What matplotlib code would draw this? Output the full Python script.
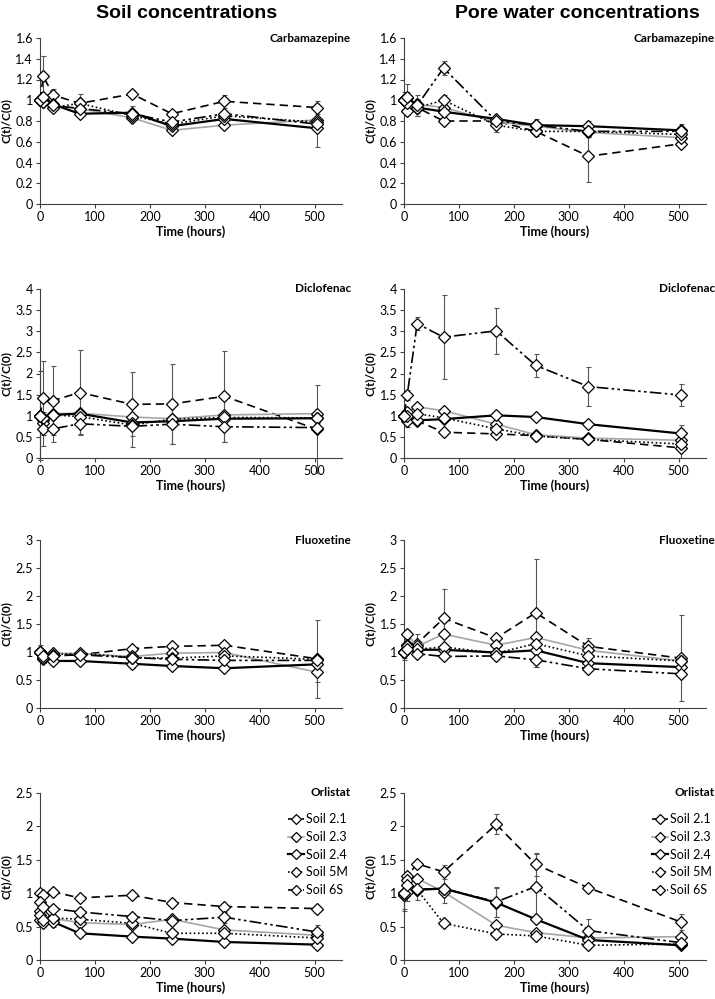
import matplotlib
matplotlib.use("Agg")
import matplotlib.pyplot as plt

# ---------------- data ----------------
times = [0, 6, 24, 72, 168, 240, 336, 504]
soils = ["Soil 2.1", "Soil 2.3", "Soil 2.4", "Soil 5M", "Soil 6S"]
compounds = ["Carbamazepine", "Diclofenac", "Fluoxetine", "Orlistat"]
column_titles = ["Soil concentrations", "Pore water concentrations"]
y_max = [1.6, 4, 3, 2.5]
y_step = [0.2, 0.5, 0.5, 0.5]

# order of series: Soil 2.1, 2.3, 2.4, 5M, 6S
soil_carbamazepine = [
    [1.00, 1.23, 1.05, 0.97, 1.06, 0.87, 0.99, 0.93],
    [1.00, 0.98, 0.95, 0.92, 0.83, 0.71, 0.76, 0.81],
    [1.00, 1.00, 0.96, 0.87, 0.88, 0.75, 0.82, 0.73],
    [1.00, 0.98, 0.93, 0.97, 0.85, 0.77, 0.85, 0.79],
    [1.00, 1.03, 0.95, 0.92, 0.87, 0.79, 0.87, 0.77],
]
soil_carbamazepine_err = [
    [0.05, 0.20, 0.06, 0.09, 0.04, 0.02, 0.06, 0.06],
    [0.02, 0.02, 0.02, 0.02, 0.02, 0.02, 0.02, 0.02],
    [0.05, 0.03, 0.02, 0.03, 0.06, 0.03, 0.05, 0.18],
    [0.03, 0.02, 0.02, 0.03, 0.03, 0.02, 0.03, 0.03],
    [0.03, 0.03, 0.03, 0.03, 0.03, 0.03, 0.03, 0.03],
]
pore_carbamazepine = [
    [1.00, 0.90, 0.93, 0.80, 0.80, 0.70, 0.46, 0.58],
    [1.00, 1.02, 0.96, 0.93, 0.79, 0.75, 0.69, 0.64],
    [1.00, 0.98, 0.93, 0.89, 0.82, 0.76, 0.75, 0.71],
    [1.00, 0.97, 0.93, 1.00, 0.76, 0.70, 0.70, 0.67],
    [1.00, 1.03, 0.95, 1.31, 0.80, 0.76, 0.70, 0.70],
]
pore_carbamazepine_err = [
    [0.05, 0.04, 0.05, 0.03, 0.03, 0.02, 0.25, 0.03],
    [0.03, 0.03, 0.03, 0.03, 0.03, 0.03, 0.03, 0.03],
    [0.08, 0.10, 0.08, 0.03, 0.03, 0.03, 0.05, 0.06],
    [0.03, 0.03, 0.03, 0.05, 0.07, 0.04, 0.05, 0.03],
    [0.05, 0.13, 0.10, 0.07, 0.03, 0.06, 0.05, 0.03],
]
soil_diclofenac = [
    [1.00, 1.42, 1.36, 1.55, 1.27, 1.28, 1.46, 0.68],
    [1.00, 0.90, 1.05, 1.06, 0.97, 0.93, 1.02, 1.05],
    [1.00, 0.83, 1.02, 1.05, 0.84, 0.87, 0.93, 0.94],
    [1.00, 0.95, 1.02, 0.98, 0.78, 0.92, 0.96, 0.95],
    [1.00, 0.68, 0.69, 0.81, 0.75, 0.80, 0.74, 0.72],
]
soil_diclofenac_err = [
    [1.05, 0.88, 0.81, 1.00, 0.76, 0.95, 1.07, 1.04],
    [0.05, 0.10, 0.05, 0.05, 0.05, 0.05, 0.05, 0.05],
    [0.05, 0.15, 0.10, 0.08, 0.10, 0.10, 0.10, 0.08],
    [0.05, 0.10, 0.05, 0.05, 0.05, 0.05, 0.05, 0.05],
    [0.10, 0.40, 0.32, 0.25, 0.48, 0.48, 0.35, 0.10],
]
pore_diclofenac = [
    [1.00, 1.00, 0.88, 0.61, 0.57, 0.53, 0.44, 0.24],
    [1.00, 1.08, 1.21, 1.12, 0.80, 0.55, 0.47, 0.42],
    [1.00, 0.88, 0.89, 0.92, 1.01, 0.97, 0.80, 0.58],
    [1.00, 1.00, 1.05, 0.95, 0.69, 0.52, 0.44, 0.33],
    [1.00, 1.50, 3.18, 2.86, 3.01, 2.19, 1.69, 1.49],
]
pore_diclofenac_err = [
    [0.05, 0.05, 0.05, 0.04, 0.04, 0.04, 0.04, 0.24],
    [0.04, 0.04, 0.04, 0.04, 0.04, 0.04, 0.04, 0.04],
    [0.10, 0.15, 0.08, 0.05, 0.04, 0.04, 0.04, 0.20],
    [0.04, 0.04, 0.04, 0.04, 0.04, 0.04, 0.04, 0.04],
    [0.10, 0.12, 0.15, 1.00, 0.55, 0.27, 0.47, 0.27],
]
soil_fluoxetine = [
    [1.00, 0.93, 0.97, 0.95, 1.06, 1.10, 1.12, 0.88],
    [1.00, 0.95, 0.98, 0.97, 0.92, 0.98, 0.99, 0.64],
    [1.00, 0.88, 0.84, 0.84, 0.79, 0.75, 0.71, 0.78],
    [1.00, 0.90, 0.95, 0.98, 0.90, 0.89, 0.93, 0.87],
    [1.00, 0.92, 0.93, 0.95, 0.90, 0.87, 0.85, 0.85],
]
soil_fluoxetine_err = [
    [0.12, 0.04, 0.03, 0.03, 0.03, 0.03, 0.03, 0.70],
    [0.03, 0.03, 0.03, 0.03, 0.03, 0.03, 0.03, 0.17],
    [0.05, 0.07, 0.03, 0.03, 0.07, 0.05, 0.03, 0.05],
    [0.03, 0.03, 0.03, 0.03, 0.03, 0.03, 0.03, 0.03],
    [0.03, 0.03, 0.03, 0.03, 0.03, 0.03, 0.03, 0.03],
]
pore_fluoxetine = [
    [1.00, 1.13, 1.15, 1.60, 1.25, 1.70, 1.10, 0.89],
    [1.00, 1.32, 1.10, 1.32, 1.12, 1.26, 1.03, 0.84],
    [1.00, 1.12, 1.04, 1.04, 0.99, 1.03, 0.80, 0.73],
    [1.00, 1.10, 1.05, 1.09, 0.98, 1.15, 0.93, 0.84],
    [1.00, 1.05, 0.97, 0.92, 0.93, 0.86, 0.70, 0.61],
]
pore_fluoxetine_err = [
    [0.15, 0.10, 0.18, 0.53, 0.05, 0.96, 0.15, 0.77],
    [0.05, 0.08, 0.05, 0.05, 0.05, 0.05, 0.05, 0.05],
    [0.10, 0.08, 0.05, 0.05, 0.05, 0.20, 0.05, 0.05],
    [0.05, 0.05, 0.05, 0.05, 0.05, 0.05, 0.05, 0.05],
    [0.05, 0.05, 0.05, 0.05, 0.05, 0.12, 0.05, 0.05],
]
soil_orlistat = [
    [1.00, 0.97, 1.02, 0.93, 0.97, 0.86, 0.80, 0.77],
    [0.73, 0.68, 0.62, 0.56, 0.53, 0.61, 0.45, 0.37],
    [0.60, 0.55, 0.57, 0.40, 0.35, 0.32, 0.27, 0.23],
    [0.68, 0.60, 0.63, 0.61, 0.55, 0.40, 0.40, 0.33],
    [0.87, 0.80, 0.77, 0.72, 0.65, 0.59, 0.64, 0.42],
]
soil_orlistat_err = [
    [0.02, 0.02, 0.03, 0.03, 0.02, 0.05, 0.03, 0.02],
    [0.02, 0.02, 0.02, 0.02, 0.02, 0.02, 0.02, 0.02],
    [0.05, 0.05, 0.08, 0.06, 0.02, 0.02, 0.02, 0.02],
    [0.02, 0.02, 0.02, 0.02, 0.02, 0.02, 0.02, 0.02],
    [0.05, 0.04, 0.03, 0.05, 0.05, 0.03, 0.08, 0.10],
]
pore_orlistat = [
    [0.98, 1.26, 1.44, 1.32, 2.03, 1.43, 1.08, 0.57],
    [1.00, 1.20, 1.22, 1.02, 0.52, 0.41, 0.33, 0.35],
    [0.98, 1.03, 1.05, 1.07, 0.86, 0.61, 0.30, 0.22],
    [1.00, 1.02, 1.05, 0.55, 0.39, 0.36, 0.22, 0.24],
    [1.00, 1.13, 1.06, 1.07, 0.87, 1.10, 0.44, 0.26],
]
pore_orlistat_err = [
    [0.22, 0.05, 0.03, 0.10, 0.15, 0.17, 0.03, 0.12],
    [0.03, 0.03, 0.03, 0.03, 0.03, 0.03, 0.03, 0.03],
    [0.24, 0.15, 0.15, 0.22, 0.22, 0.05, 0.03, 0.03],
    [0.03, 0.03, 0.03, 0.03, 0.03, 0.03, 0.03, 0.03],
    [0.05, 0.10, 0.05, 0.05, 0.22, 0.48, 0.17, 0.03],
]

soil_panels = [(soil_carbamazepine, soil_carbamazepine_err),
               (soil_diclofenac, soil_diclofenac_err),
               (soil_fluoxetine, soil_fluoxetine_err),
               (soil_orlistat, soil_orlistat_err)]
pore_panels = [(pore_carbamazepine, pore_carbamazepine_err),
               (pore_diclofenac, pore_diclofenac_err),
               (pore_fluoxetine, pore_fluoxetine_err),
               (pore_orlistat, pore_orlistat_err)]

# ---------------- styles ----------------
styles = [
    dict(color="black", ls=(0, (5, 3)), lw=1.2),
    dict(color="#a6a6a6", ls="-", lw=1.2),
    dict(color="black", ls="-", lw=1.6),
    dict(color="black", ls=(0, (1, 1.5)), lw=1.2),
    dict(color="black", ls=(0, (7, 2, 1.5, 2, 1.5, 2)), lw=1.2),
]

FONT = ["Lato", "DejaVu Sans"]
plt.rcParams["font.family"] = FONT

W, H = 715, 999
fig = plt.figure(figsize=(W / 100, H / 100), dpi=100)

col_x = [40, 404]
ax_w = 302
rows = [(38, 204), (289, 458), (540, 708), (793, 960)]

for c, panels in enumerate([soil_panels, pore_panels]):
    for r, (vals, errs) in enumerate(panels):
        top, bot = rows[r]
        ax = fig.add_axes([col_x[c] / W, 1 - bot / H, ax_w / W, (bot - top) / H])
        for s in range(len(soils)):
            st = styles[s]
            ax.errorbar(times, vals[s], yerr=errs[s], fmt="none",
                        ecolor="#555555", elinewidth=0.8, capsize=1.8,
                        capthick=0.8, zorder=2, clip_on=False)
            ax.plot(times, vals[s], color=st["color"], ls=st["ls"], lw=st["lw"],
                    marker="D", markersize=6, markerfacecolor="white",
                    markeredgecolor="black", markeredgewidth=0.9,
                    label=soils[s], zorder=3 + s, clip_on=False)
        ax.set_xlim(0, 550)
        ax.set_ylim(0, y_max[r])
        nt = int(round(y_max[r] / y_step[r]))
        ticks = [i * y_step[r] for i in range(nt + 1)]
        ax.set_yticks(ticks)
        ax.set_yticklabels([f"{t:g}" for t in ticks])
        ax.set_xticks([0, 100, 200, 300, 400, 500])
        for sp in ["top", "right"]:
            ax.spines[sp].set_visible(False)
        for sp in ["left", "bottom"]:
            ax.spines[sp].set_color("#404040")
            ax.spines[sp].set_linewidth(0.8)
        ax.tick_params(direction="out", length=3, width=0.8, colors="#404040",
                       labelsize=9, labelcolor="black", pad=2)
        ax.set_ylabel("C(t)/C(0)", fontsize=8.5, fontweight="bold")
        ax.yaxis.set_label_coords(-28 / ax_w, 0.5)
        ax.set_xlabel("Time (hours)", fontsize=9, fontweight="bold", labelpad=2)
        ax.text(1.03, 1.0, compounds[r], transform=ax.transAxes, ha="right",
                va="center", fontsize=8.5, fontweight="bold")
        if r == 3:
            ax.legend(loc="upper right", bbox_to_anchor=(1.05, 0.93),
                      frameon=False, fontsize=9, handlelength=1.3,
                      handletextpad=0.2, labelspacing=0.45, borderpad=0.2,
                      markerscale=0.85)

title_font = ["Liberation Sans", "DejaVu Sans"]
fig.text(187 / W, 1 - 14 / H, column_titles[0], ha="center", va="center",
         fontsize=14, fontweight="bold", family=title_font)
fig.text(577 / W, 1 - 14 / H, column_titles[1], ha="center", va="center",
         fontsize=14, fontweight="bold", family=title_font)

fig.savefig("out.png", dpi=100)
